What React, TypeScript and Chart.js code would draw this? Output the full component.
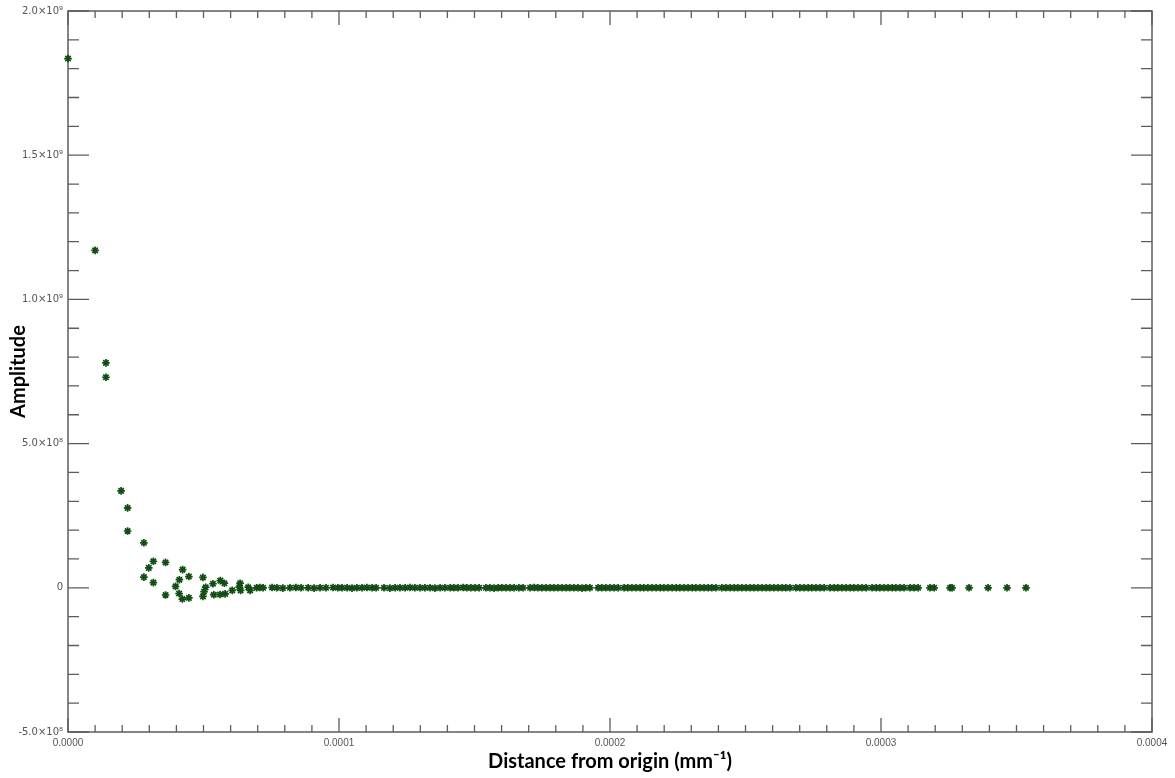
import { useEffect, useRef } from 'react';
import { Chart, registerables } from 'chart.js';

Chart.register(...registerables);

// Early (oscillating) part of the curve: distance in mm^-1, amplitude
const nearDistance = [
  0, 1.0e-5, 1.4e-5, 1.4e-5, 1.96e-5, 2.2e-5, 2.2e-5, 2.8e-5, 3.15e-5, 2.98e-5,
  3.6e-5, 2.8e-5, 3.15e-5, 3.6e-5, 4.23e-5, 4.46e-5, 4.11e-5, 3.97e-5, 4.1e-5, 4.22e-5,
  4.46e-5, 4.98e-5, 5.08e-5, 5.02e-5, 4.98e-5, 5.35e-5, 5.38e-5, 5.62e-5, 5.77e-5, 5.61e-5,
  5.8e-5, 6.06e-5, 6.32e-5, 6.35e-5, 6.37e-5, 6.65e-5, 6.72e-5, 6.96e-5, 7.08e-5, 7.2e-5,
];
const nearAmplitude = [
  1.835e9, 1.17e9, 7.8e8, 7.3e8, 3.36e8, 2.77e8, 1.97e8, 1.56e8, 9.2e7, 6.9e7,
  8.8e7, 3.7e7, 1.8e7, -2.5e7, 6.3e7, 3.9e7, 2.8e7, 5e6, -2.0e7, -3.9e7,
  -3.5e7, 3.6e7, 2e6, -1.3e7, -3.0e7, 1.4e7, -2.4e7, 2.5e7, 1.6e7, -2.3e7,
  -2.1e7, -9e6, 2e6, 1.6e7, -9e6, 2e6, -9e6, 0, 1e6, 0,
];

// Flat tail of the curve: distance in units of 1e-6 mm^-1, amplitude
const tailDistanceMicro = [
  75.3, 77.1, 79.3, 81.9, 84.1, 86.0, 88.6, 90.8, 93.0, 95.2,
  97.8, 99.6, 101.1, 103.0, 104.8, 106.6, 108.5, 110.3, 112.2, 113.7,
  116.6, 118.8, 120.7, 122.5, 124.4, 126.2, 128.0, 129.9, 131.7, 133.6,
  135.4, 137.3, 139.1, 141.0, 142.4, 143.9, 145.8, 147.2, 148.7, 150.2,
  151.7, 154.2, 155.7, 157.2, 158.7, 160.1, 161.6, 163.1, 164.6, 166.4,
  167.9, 170.5, 172.0, 173.4, 174.9, 176.4, 177.9, 179.3, 180.8, 182.3,
  183.8, 185.2, 186.7, 188.2, 189.7, 191.1, 192.6, 195.6, 197.0, 198.5,
  200.0, 201.5, 203.0, 205.2, 206.6, 208.1, 209.6, 211.1, 212.5, 214.0,
  215.5, 217.0, 218.5, 219.9, 221.4, 222.9, 224.4, 225.8, 227.3, 228.8,
  230.3, 231.7, 233.2, 234.7, 236.2, 237.6, 239.1, 241.3, 242.8, 244.3,
  245.8, 247.2, 248.7, 250.2, 251.7, 253.1, 254.6, 256.1, 257.6, 259.0,
  260.5, 262.0, 263.5, 264.9, 266.4, 268.6, 270.1, 271.6, 273.1, 274.5,
  276.0, 277.5, 279.0, 281.2, 282.7, 284.1, 285.6, 287.1, 288.6, 290.0,
  291.5, 293.0, 294.5, 296.7, 298.2, 299.6, 301.1, 302.6, 304.1, 305.5,
  307.0, 308.5, 310.7, 312.2, 313.7, 318.1, 319.6, 325.5, 326.2, 332.5,
  339.5, 346.5, 353.5,
];
const tailAmplitude = [
  1e6, 0, -1e6, 0, 1e6, 0, 0, -1e6, 0, 0,
  1e6, 0, 0, 0, -1e6, 0, 0, 1e6, 0, 0,
  0, -1e6, 0, 0, 0, 1e6, 0, 0, 0, 0,
  -1e6, 0, 0, 0, 0, 0, 1e6, 0, 0, 0,
  0, 0, 0, -1e6, 0, 0, 0, 0, 0, 0,
  0, 0, 1e6, 0, 0, 0, 0, 0, 0, 0,
  0, 0, 0, 0, -1e6, 0, 0, 0, 0, 0,
  0, 0, 0, 0, 0, 0, 0, 0, 0, 0,
  0, 0, 0, 0, 0, 0, 0, 0, 0, 0,
  0, 0, 0, 0, 0, 0, 0, 0, 0, 0,
  0, 0, 0, 0, 0, 0, 0, 0, 0, 0,
  0, 0, 0, 0, 0, 0, 0, 0, 0, 0,
  0, 0, 0, 0, 0, 0, 0, 0, 0, 0,
  0, 0, 0, 0, 0, 0, 0, 0, 0, 0,
  0, 0, 0, 0, 0, 0, 0, 0, 0, 0,
  0, 0, 0,
];

const xTickValues = [0, 0.0001, 0.0002, 0.0003, 0.0004];
const xTickLabels = ['0.0000', '0.0001', '0.0002', '0.0003', '0.0004'];
const yTickValues = [-5e8, 0, 5e8, 1e9, 1.5e9, 2e9];
const yTickLabels = ['-5.0×10⁸', '0', '5.0×10⁸', '1.0×10⁹', '1.5×10⁹', '2.0×10⁹'];
const xMinorPerMajor = 10;
const yMinorPerMajor = 5;

const W = 1175;
const H = 778;

const framePlugin = {
  id: 'idlFrame',
  beforeDatasetsDraw(chart: any) {
    const { ctx, chartArea, scales } = chart;
    const { left, right, top, bottom } = chartArea;
    const xs = scales.x;
    const ys = scales.y;
    ctx.save();
    ctx.strokeStyle = '#5c5c5c';
    ctx.lineWidth = 1.5;
    ctx.strokeRect(left, top, right - left, bottom - top);
    ctx.lineWidth = 1.3;
    ctx.beginPath();
    const xStep = (xTickValues[1] - xTickValues[0]) / xMinorPerMajor;
    const nx = Math.round((xs.max - xs.min) / xStep);
    for (let i = 0; i <= nx; i++) {
      const px = xs.getPixelForValue(xs.min + i * xStep);
      const len = i % xMinorPerMajor === 0 ? 14 : 7;
      ctx.moveTo(px, bottom);
      ctx.lineTo(px, bottom - len);
      ctx.moveTo(px, top);
      ctx.lineTo(px, top + len);
    }
    const yStep = (yTickValues[1] - yTickValues[0]) / yMinorPerMajor;
    const ny = Math.round((ys.max - ys.min) / yStep);
    for (let i = 0; i <= ny; i++) {
      const py = ys.getPixelForValue(ys.min + i * yStep);
      const len = i % yMinorPerMajor === 0 ? 21 : 11;
      ctx.moveTo(left, py);
      ctx.lineTo(left + len, py);
      ctx.moveTo(right, py);
      ctx.lineTo(right - len, py);
    }
    ctx.stroke();
    ctx.restore();
  },
};

export default function App() {
  const ref = useRef<HTMLCanvasElement>(null);

  useEffect(() => {
    if (!ref.current) return;
    const points = [
      ...nearDistance.map((d, i) => ({ x: d, y: nearAmplitude[i] })),
      ...tailDistanceMicro.map((d, i) => ({ x: d * 1e-6, y: tailAmplitude[i] ?? 0 })),
    ];
    const chart = new Chart(ref.current, {
      type: 'scatter',
      data: {
        datasets: [
          {
            data: points,
            pointStyle: 'star',
            pointRadius: 3.8,
            pointBorderWidth: 1.7,
            borderColor: '#124d14',
            backgroundColor: '#124d14',
            pointHoverRadius: 3.8,
            clip: false,
          } as any,
        ],
      },
      options: {
        animation: false,
        responsive: false,
        events: [],
        layout: { padding: { left: 0, top: 10, right: 23, bottom: 0 } },
        plugins: { legend: { display: false }, tooltip: { enabled: false } },
        scales: {
          x: {
            type: 'linear',
            min: 0,
            max: 0.0004,
            grid: { display: false, drawTicks: false },
            border: { display: false },
            afterBuildTicks: (s: any) => {
              s.ticks = xTickValues.map((v) => ({ value: v }));
            },
            afterFit: (s: any) => {
              s.height = 46;
            },
            ticks: {
              autoSkip: false,
              maxRotation: 0,
              padding: 5,
              color: '#555',
              font: { family: '"Liberation Sans", Arial, sans-serif', size: 10 },
              callback: (v: any) => {
                const i = xTickValues.findIndex((t) => Math.abs(t - Number(v)) < 1e-9);
                return i >= 0 ? xTickLabels[i] : '';
              },
            },
            title: {
              display: true,
              text: 'Distance from origin (mm⁻¹)',
              color: '#000',
              font: { family: 'Lato, "Open Sans", sans-serif', size: 20, weight: 'bold' },
              padding: { top: 0, bottom: 4 },
            },
          },
          y: {
            type: 'linear',
            min: -5e8,
            max: 2e9,
            grid: { display: false, drawTicks: false },
            border: { display: false },
            afterBuildTicks: (s: any) => {
              s.ticks = yTickValues.map((v) => ({ value: v }));
            },
            afterFit: (s: any) => {
              s.width = 68;
            },
            ticks: {
              autoSkip: false,
              padding: 5,
              color: '#555',
              font: { family: '"DejaVu Sans", "Liberation Sans", sans-serif', size: 10 },
              callback: (v: any) => {
                const i = yTickValues.findIndex((t) => Math.abs(t - Number(v)) < 1);
                return i >= 0 ? yTickLabels[i] : '';
              },
            },
            title: {
              display: true,
              text: 'Amplitude',
              color: '#000',
              font: { family: 'Lato, "Open Sans", sans-serif', size: 20, weight: 'bold' },
              padding: { top: 7, bottom: 0 },
            },
          },
        },
      },
      plugins: [framePlugin],
    });
    return () => chart.destroy();
  }, []);

  return (
    <div style={{ position: 'fixed', left: 0, top: 0, width: W, height: H, background: '#fff' }}>
      <canvas ref={ref} width={W} height={H} style={{ width: W, height: H, display: 'block' }} />
    </div>
  );
}
